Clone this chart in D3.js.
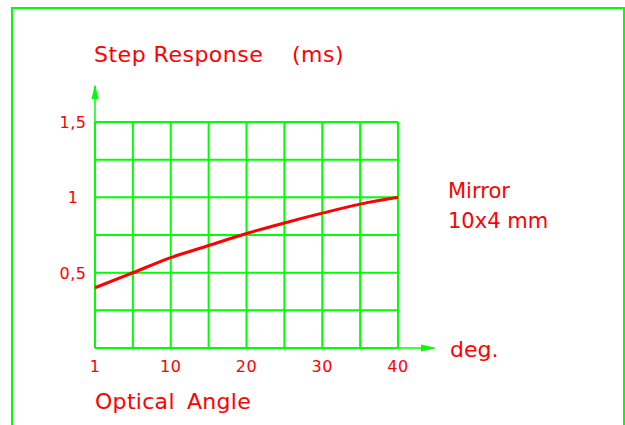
<!DOCTYPE html>
<html>
<head>
<meta charset="utf-8">
<script src="https://cdn.jsdelivr.net/npm/d3@7"></script>
<style>
  html, body { margin: 0; padding: 0; background: #fff; }
  svg { display: block; }
  text { font-family: "DejaVu Sans", sans-serif; fill: #ff0000; }
</style>
</head>
<body>
<div id="chart"></div>
<script>
// data
var angles = [1, 5, 10, 15, 20, 25, 30, 35, 40],
    response = [0.40, 0.488, 0.60, 0.68, 0.76, 0.83, 0.895, 0.955, 1.0];
var xTicks = [1, 10, 20, 30, 40],
    xTickLabels = ["1", "10", "20", "30", "40"],
    xGrid = [1, 5.5, 10, 15, 20, 25, 30, 35, 40];
var yTicks = [0.5, 1, 1.5],
    yTickLabels = ["0,5", "1", "1,5"],
    yGrid = [0, 0.25, 0.5, 0.75, 1, 1.25, 1.5];

// layout
var W = 625, H = 425;
var green = "#00ff00", red = "#ff0000";
var plot = { x0: 95, x1: 398, y0: 348, y1: 122 };

var svg = d3.select("#chart").append("svg").attr("width", W).attr("height", H);

// frame
svg.append("rect").attr("x", 12).attr("y", 8).attr("width", 612).attr("height", 440)
   .attr("fill", "none").attr("stroke", green).attr("stroke-width", 2);

// scales (first label "1" sits at the origin, so polylinear)
var x = d3.scaleLinear().domain([1, 10, 40]).range([plot.x0, plot.x0 + (plot.x1 - plot.x0) / 4, plot.x1]);
var y = d3.scaleLinear().domain([0, 1.5]).range([plot.y0, plot.y1]);

// grid
svg.append("g").selectAll("line").data(yGrid).join("line")
   .attr("x1", plot.x0).attr("x2", plot.x1)
   .attr("y1", function(d) { return y(d); }).attr("y2", function(d) { return y(d); })
   .attr("stroke", green).attr("stroke-width", 2);
svg.append("g").selectAll("line").data(xGrid).join("line")
   .attr("x1", function(d) { return x(d); }).attr("x2", function(d) { return x(d); })
   .attr("y1", plot.y0).attr("y2", plot.y1)
   .attr("stroke", green).attr("stroke-width", 2);

// axes with arrows
svg.append("line").attr("x1", x(1)).attr("y1", y(0)).attr("x2", x(1)).attr("y2", 86)
   .attr("stroke", green).attr("stroke-width", 1.5);
svg.append("path").attr("d", "M" + x(1) + ",84 L" + (x(1) - 3.5) + ",99 L" + (x(1) + 3.5) + ",99 Z")
   .attr("fill", green);
svg.append("line").attr("x1", x(1)).attr("y1", y(0)).attr("x2", 434).attr("y2", y(0))
   .attr("stroke", green).attr("stroke-width", 1.5);
svg.append("path").attr("d", "M436," + y(0) + " L421," + (y(0) - 3.5) + " L421," + (y(0) + 3.5) + " Z")
   .attr("fill", green);

// tick labels
svg.append("g").selectAll("text").data(xTicks).join("text")
   .attr("x", function(d) { return x(d); }).attr("y", 372)
   .attr("text-anchor", "middle").attr("font-size", 16).attr("letter-spacing", 0.5)
   .text(function(d, i) { return xTickLabels[i]; });
svg.append("g").selectAll("text").data(yTicks).join("text")
   .attr("x", 73).attr("y", function(d) { return y(d) + 6; })
   .attr("text-anchor", "middle").attr("font-size", 16).attr("letter-spacing", 0.5)
   .text(function(d, i) { return yTickLabels[i]; });

// curve
var line = d3.line().x(function(d, i) { return x(angles[i]); }).y(function(d) { return y(d); })
             .curve(d3.curveMonotoneX);
svg.append("path").datum(response).attr("d", line)
   .attr("fill", "none").attr("stroke", red).attr("stroke-width", 3);

// titles
var ttl = svg.append("text").attr("y", 62).attr("font-size", 22).attr("letter-spacing", 0.5);
ttl.append("tspan").attr("x", 94).text("Step Response");
ttl.append("tspan").attr("x", 292).text("(ms)");
var xl = svg.append("text").attr("y", 409).attr("font-size", 22).attr("letter-spacing", 0.3);
xl.append("tspan").attr("x", 95).text("Optical");
xl.append("tspan").attr("x", 187).text("Angle");
svg.append("text").attr("x", 450).attr("y", 357).attr("font-size", 22).text("deg.");
svg.append("text").attr("x", 448).attr("y", 198).attr("font-size", 21).text("Mirror");
svg.append("text").attr("x", 448).attr("y", 228).attr("font-size", 21).text("10x4 mm");
</script>
</body>
</html>
